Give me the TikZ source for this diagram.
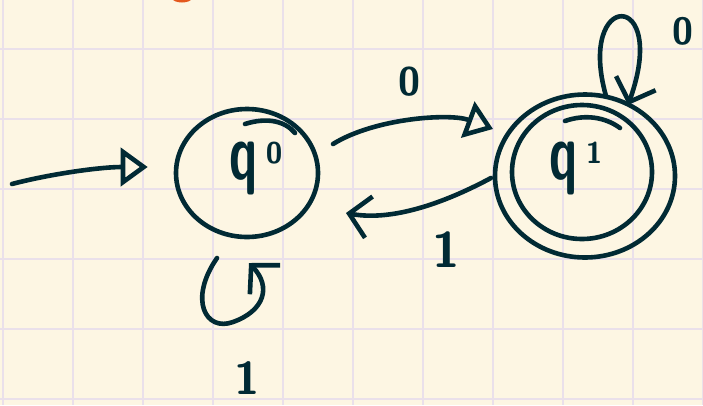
\documentclass[tikz,border=0pt]{standalone}
\usetikzlibrary{arrows.meta,shapes.geometric,calc}
\definecolor{paper}{RGB}{253,246,227}
\definecolor{gridc}{RGB}{234,224,234}
\definecolor{ink}{RGB}{1,42,52}
\definecolor{smudge}{RGB}{228,88,30}
\tikzset{
  gridline/.style={draw=gridc,line width=2pt},
  stroke/.style={draw=ink,line width=4.6pt,line cap=round,line join=round},
  state/.style={ellipse,stroke,inner sep=0pt},
  txt/.style={text=ink,inner sep=0pt,font=\sffamily\bfseries},
  tri/.style={stroke,-{Triangle[open,length=27pt,width=38pt,line width=4.6pt]}},
  barb/.style={stroke,-{Straight Barb[length=20pt,width=42pt,line width=4.6pt]}},
}
\newcommand{\qlab}[1]{\scalebox{1}[1.6]{\fontsize{50}{50}\selectfont q}\hspace{8pt}\raisebox{16pt}{\fontsize{30}{30}\selectfont #1}}
\begin{document}
\begin{tikzpicture}[x=1pt,y=-1pt]
\useasboundingbox (0,0) rectangle (703,405);
\fill[paper] (0,0) rectangle (703,405);
\foreach \gx in {3,73,...,703} \draw[gridline] (\gx,0) -- (\gx,405);
\foreach \gy in {49,119,...,399} \draw[gridline] (0,\gy) -- (703,\gy);
\fill[smudge] (182,-2) ellipse [x radius=10, y radius=4.5];

% states
\node[state,minimum width=142pt,minimum height=128pt] (q0) at (247,173) {};
\node[txt] (q0t) at (256,168) {\qlab{0}};
\node[state,minimum width=140pt,minimum height=134pt] (q1) at (582,172) {};
\node[state,minimum width=180pt,minimum height=163pt] (q1o) at (585,176) {};
\node[txt] (q1t) at (576,168) {\qlab{1}};
% extra pen strokes on the circles
\draw[stroke] ($(q0.center)+(-2,-49)$) .. controls ($(q0.center)+(20,-56)$) and ($(q0.center)+(38,-52)$) .. ($(q0.center)+(48,-40)$);
\draw[stroke] ($(q1.center)+(-17,-51)$) .. controls ($(q1.center)+(3,-58)$) and ($(q1.center)+(23,-55)$) .. ($(q1.center)+(38,-44)$);

% start arrow
\coordinate (s) at (12,184);
\draw[tri] (s) .. controls (50,174) and (100,167) .. ($(q0.west)+(-26,-6)$);

% 0 : q0 -> q1
\draw[tri] ($(q0.center)+(86,-29)$) .. controls (375,118) and (450,113) .. ($(q1o.center)+(-92,-47)$);
\node[txt,font=\sffamily\bfseries\fontsize{40}{40}\selectfont] (l0) at (409,82) {0};

% 1 : q1 -> q0
\draw[barb] ($(q1o.center)+(-94,2)$) .. controls (450,200) and (395,222) .. ($(q0.center)+(99,40)$);
\node[txt,font=\sffamily\bfseries\fontsize{50}{50}\selectfont] (l1) at (446,250) {1};

% loop on q1 (0)
\draw[barb] ($(q1o.center)+(21,-80)$) .. controls (576,-10) and (670,-12) .. ($(q1o.center)+(43,-71)$);
\node[txt,font=\sffamily\bfseries\fontsize{38}{38}\selectfont] (l0b) at (683,31) {0};

% loop on q0 (1)
\draw[barb] ($(q0.center)+(-30,85)$) .. controls (188,300) and (206,332) .. (233,322) .. controls (264,311) and (272,287) .. ($(q0.center)+(2,90)$);
\node[txt,font=\sffamily\bfseries\fontsize{46}{46}\selectfont] (l1b) at (247,378) {1};
\end{tikzpicture}
\end{document}
